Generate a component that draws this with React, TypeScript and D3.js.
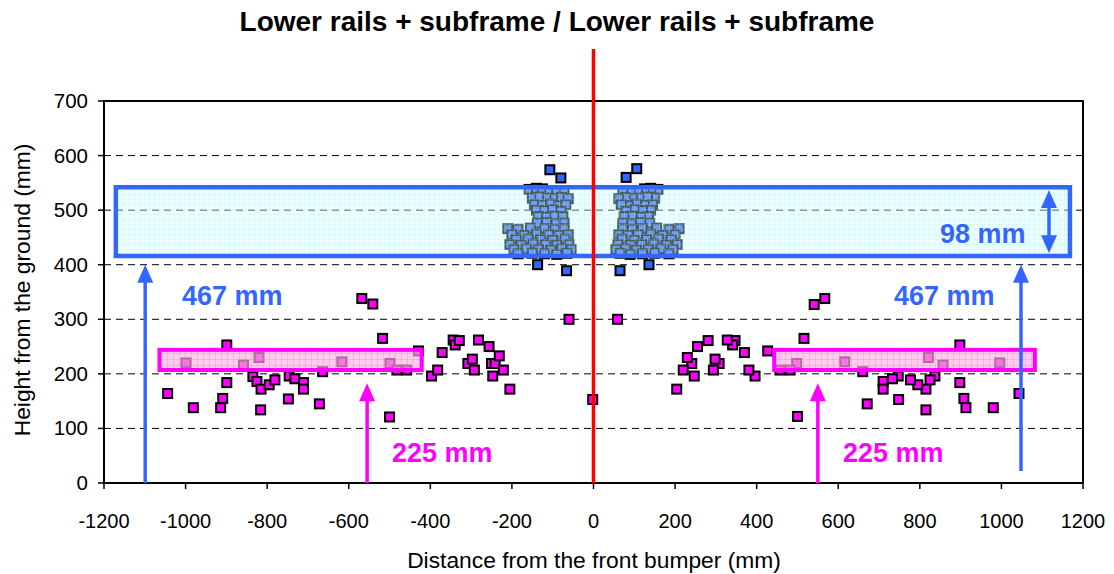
import React from "react";
import * as d3 from "d3";

// ---------- DATA ----------
const xTicks = [-1200, -1000, -800, -600, -400, -200, 0, 200, 400, 600, 800, 1000, 1200];
const yTicks = [0, 100, 200, 300, 400, 500, 600, 700];
const gridY = [100, 200, 300, 400, 500, 600];

// Lower rails (blue) – left side of bumper
const blueLeft: [number, number][] = [
  [-107, 574], [-80, 559], [-137, 400], [-66, 389],
  [-158, 538], [-140, 540], [-125, 539], [-108, 536], [-90, 535], [-72, 533],
  [-150, 522], [-132, 524], [-112, 522], [-95, 521], [-78, 523], [-62, 521],
  [-145, 510], [-125, 509], [-105, 511], [-85, 508], [-68, 510],
  [-140, 500], [-120, 499], [-100, 501], [-80, 498],
  [-135, 488], [-115, 487], [-95, 489], [-75, 488],
  [-138, 476], [-115, 477], [-92, 475], [-72, 476],
  [-210, 466], [-185, 465], [-155, 467], [-120, 466], [-95, 465], [-72, 466],
  [-200, 455], [-170, 454], [-140, 456], [-110, 455], [-85, 454], [-62, 455],
  [-190, 446], [-160, 447], [-130, 446], [-100, 445], [-70, 447],
  [-205, 437], [-178, 436], [-148, 438], [-118, 437], [-90, 436], [-60, 437],
  [-195, 428], [-165, 429], [-135, 428], [-105, 427], [-78, 429], [-55, 428],
  [-185, 420], [-150, 421], [-120, 420], [-90, 419], [-65, 421],
];
// Lower rails (blue) – right side
const blueRight: [number, number][] = [
  [106, 576], [80, 560], [136, 400], [65, 389],
  [158, 538], [140, 540], [125, 539], [108, 536], [90, 535], [72, 533],
  [150, 522], [132, 524], [112, 522], [95, 521], [78, 523], [62, 521],
  [145, 510], [125, 509], [105, 511], [85, 508], [68, 510],
  [140, 500], [120, 499], [100, 501], [80, 498],
  [135, 488], [115, 487], [95, 489], [75, 488],
  [138, 476], [115, 477], [92, 475], [72, 476],
  [210, 466], [185, 465], [155, 467], [120, 466], [95, 465], [72, 466],
  [200, 455], [170, 454], [140, 456], [110, 455], [85, 454], [62, 455],
  [190, 446], [160, 447], [130, 446], [100, 445], [70, 447],
  [205, 437], [178, 436], [148, 438], [118, 437], [90, 436], [60, 437],
  [195, 428], [165, 429], [135, 428], [105, 427], [78, 429], [55, 428],
  [185, 420], [150, 421], [120, 420], [90, 419], [65, 421],
];
// Subframe (magenta) – left side
const magentaLeft: [number, number][] = [
  [-1044, 164], [-999, 220], [-981, 138], [-914, 138], [-909, 155], [-899, 184],
  [-899, 253], [-858, 216], [-835, 195], [-825, 186], [-820, 230], [-816, 134],
  [-815, 172], [-795, 180], [-781, 189], [-748, 154], [-746, 196], [-732, 191],
  [-711, 184], [-711, 172], [-672, 145], [-664, 204], [-617, 222], [-568, 338],
  [-541, 328], [-517, 265], [-500, 121], [-499, 219], [-482, 207], [-458, 207],
  [-429, 242], [-397, 196], [-382, 207], [-371, 239], [-344, 262], [-339, 253],
  [-329, 261], [-308, 219], [-297, 227], [-292, 207], [-282, 262], [-256, 250],
  [-250, 219], [-247, 196], [-241, 219], [-231, 233], [-221, 207], [-205, 172],
  [-60, 300], [-2, 153],
];
// Subframe (magenta) – right side
const magentaRight: [number, number][] = [
  [1043, 164], [996, 220], [980, 138], [913, 138], [908, 155], [898, 184],
  [898, 253], [857, 216], [837, 196], [825, 189], [821, 230], [815, 134],
  [815, 172], [795, 180], [777, 189], [748, 153], [747, 196], [733, 191],
  [710, 186], [710, 172], [671, 145], [660, 204], [616, 222], [567, 338],
  [541, 327], [516, 265], [500, 122], [498, 219], [482, 207], [457, 207],
  [427, 242], [396, 196], [381, 207], [370, 239], [347, 261], [341, 253],
  [328, 262], [308, 219], [298, 227], [294, 207], [281, 261], [255, 250],
  [247, 196], [241, 219], [230, 230], [220, 207], [204, 172],
  [59, 300],
];

// Zones: [x0, x1, y0, y1]
const blueZone = [-1171, 1168, 416, 542];
const magentaZones = [
  [-1064, -421, 207, 244],
  [443, 1082, 207, 244],
];
// Arrows: [x, yFrom, yTo]
const blueArrows = [[-1099, 0, 400], [1048, 22, 400]];
const magentaArrows = [[-555, 0, 183], [550, 0, 183]];

const BLUE = "#3366ff";
const MAGENTA = "#ff00ff";
const FONT = "'Liberation Sans', Arial, sans-serif";

export default function App() {
  const W = 1114, H = 574;
  const x = d3.scaleLinear().domain([-1200, 1200]).range([104, 1083]);
  const y = d3.scaleLinear().domain([0, 700]).range([483, 101]);
  const ms = 9;

  const allBlue = [...blueLeft, ...blueRight];
  const allMag = [...magentaLeft, ...magentaRight];

  const arrowHead = (cx: number, tipY: number, color: string, dir: 1 | -1, key: string) => {
    const w = 8, h = 18;
    const p = `M${cx},${tipY} L${cx - w},${tipY + dir * h} L${cx + w},${tipY + dir * h} Z`;
    return <path key={key} d={p} fill={color} />;
  };

  return (
    <svg width={W} height={H} style={{ position: "absolute", left: 0, top: 0, background: "#fff" }} fontFamily={FONT}>
      <defs>
        <pattern id="gridBlue" width="5" height="5" patternUnits="userSpaceOnUse">
          <rect width="5" height="5" fill="#ccffff" fillOpacity="0.36" />
          <path d="M5,0 L5,5 M0,5 L5,5" stroke="#a8e4f0" strokeWidth="0.7" strokeOpacity="0.55" />
        </pattern>
        <pattern id="gridPink" width="6" height="6" patternUnits="userSpaceOnUse">
          <rect width="6" height="6" fill="#ffb0e0" fillOpacity="0.65" />
          <path d="M6,0 L6,6 M0,6 L6,6" stroke="#ff55cc" strokeWidth="0.8" strokeOpacity="0.6" />
        </pattern>
      </defs>

      {/* title */}
      <text x={557} y={31} textAnchor="middle" fontSize={28} fontWeight="bold">
        Lower rails + subframe / Lower rails + subframe
      </text>

      {/* gridlines */}
      {gridY.map((v) => (
        <line key={v} x1={x(-1200)} x2={x(1200)} y1={y(v)} y2={y(v)} stroke="#000" strokeWidth={1} strokeDasharray="7,5" />
      ))}

      {/* plot frame */}
      <rect x={x(-1200)} y={y(700)} width={x(1200) - x(-1200)} height={y(0) - y(700)} fill="none" stroke="#000" strokeWidth={2} />

      {/* y ticks */}
      {yTicks.map((v) => (
        <g key={v}>
          <line x1={x(-1200) - 6} x2={x(-1200)} y1={y(v)} y2={y(v)} stroke="#000" strokeWidth={1.5} />
          <text x={88} y={y(v) + 7} textAnchor="end" fontSize={20.5}>{v}</text>
        </g>
      ))}
      {/* x ticks */}
      {xTicks.map((v) => (
        <g key={v}>
          <line x1={x(v)} x2={x(v)} y1={y(0)} y2={y(0) + 6} stroke="#000" strokeWidth={1.5} />
          <text x={x(v)} y={528} textAnchor="middle" fontSize={20}>{v}</text>
        </g>
      ))}

      {/* axis titles */}
      <text x={594} y={568} textAnchor="middle" fontSize={22.8}>Distance from the front bumper (mm)</text>
      <text transform={`translate(30,${290}) rotate(-90)`} textAnchor="middle" fontSize={22.8}>Height from the ground (mm)</text>

      {/* points */}
      {allBlue.map(([a, b], i) => (
        <rect key={"b" + i} x={x(a) - ms / 2} y={y(b) - ms / 2} width={ms} height={ms} fill={BLUE} stroke="#000" strokeWidth={2} />
      ))}
      {allMag.map(([a, b], i) => (
        <rect key={"m" + i} x={x(a) - ms / 2} y={y(b) - ms / 2} width={ms} height={ms} fill={MAGENTA} stroke="#000" strokeWidth={2} />
      ))}

      {/* zones */}
      <rect x={x(blueZone[0])} y={y(blueZone[3])} width={x(blueZone[1]) - x(blueZone[0])} height={y(blueZone[2]) - y(blueZone[3])}
        fill="url(#gridBlue)" stroke={BLUE} strokeWidth={4.5} />
      {magentaZones.map((z, i) => (
        <rect key={i} x={x(z[0])} y={y(z[3])} width={x(z[1]) - x(z[0])} height={y(z[2]) - y(z[3])}
          fill="url(#gridPink)" stroke={MAGENTA} strokeWidth={4} />
      ))}

      {/* arrows */}
      {blueArrows.map(([ax, y0, y1], i) => (
        <g key={"ba" + i}>
          <line x1={x(ax)} x2={x(ax)} y1={y(y0)} y2={y(y1) + 14} stroke={BLUE} strokeWidth={3.5} />
          {arrowHead(x(ax), y(y1), BLUE, 1, "bh" + i)}
        </g>
      ))}
      {magentaArrows.map(([ax, y0, y1], i) => (
        <g key={"ma" + i}>
          <line x1={x(ax)} x2={x(ax)} y1={y(y0)} y2={y(y1) + 14} stroke={MAGENTA} strokeWidth={3.5} />
          {arrowHead(x(ax), y(y1), MAGENTA, 1, "mh" + i)}
        </g>
      ))}
      {/* 98 mm double arrow */}
      <g>
        <line x1={1049} x2={1049} y1={y(542) + 14} y2={y(426) - 14} stroke={BLUE} strokeWidth={3.5} />
        {arrowHead(1049, y(537), BLUE, 1, "d1")}
        {arrowHead(1049, y(421), BLUE, -1, "d2")}
      </g>

      {/* annotation texts */}
      <text x={182} y={305} fontSize={27} fontWeight="bold" fill={BLUE}>467 mm</text>
      <text x={894} y={305} fontSize={27} fontWeight="bold" fill={BLUE}>467 mm</text>
      <text x={940} y={243} fontSize={27} fontWeight="bold" fill={BLUE}>98 mm</text>
      <text x={392} y={462} fontSize={27} fontWeight="bold" fill={MAGENTA}>225 mm</text>
      <text x={843} y={462} fontSize={27} fontWeight="bold" fill={MAGENTA}>225 mm</text>

      {/* bumper line */}
      <line x1={x(0)} x2={x(0)} y1={49} y2={y(0)} stroke="#ff0000" strokeWidth={3.5} />
    </svg>
  );
}
